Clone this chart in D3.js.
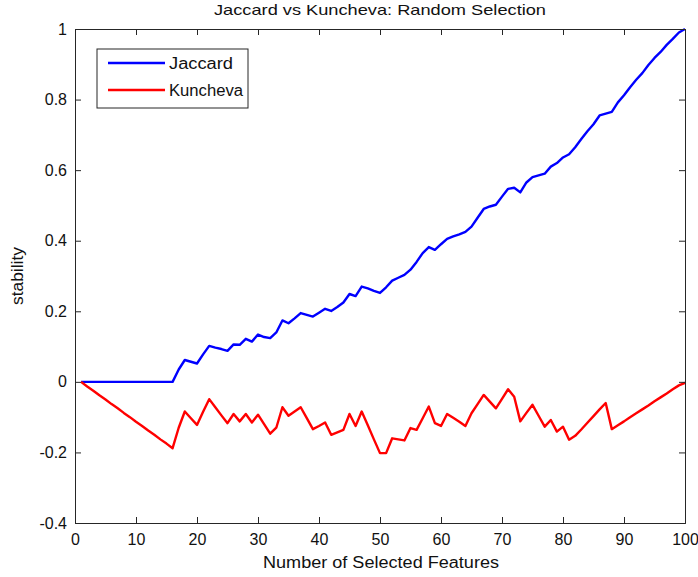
<!DOCTYPE html>
<html>
<head>
<meta charset="utf-8">
<script src="https://cdn.jsdelivr.net/npm/d3@7"></script>
<style>
  body { margin: 0; background: #fff; }
  svg { display: block; }
  text { font-family: "Liberation Sans", Arial, sans-serif; fill: #111; }
</style>
</head>
<body>
<svg id="chart" width="698" height="577"></svg>
<script>
// Number of selected features (1..100)
const features = d3.range(1, 101);

// Jaccard stability index per feature count
const jaccard = [
  0, 0, 0, 0, 0, 0, 0, 0, 0, 0,
  0, 0, 0, 0, 0, 0, 0.035, 0.062, 0.057, 0.052,
  0.078, 0.102, 0.097, 0.093, 0.088, 0.106, 0.105, 0.122, 0.114, 0.134,
  0.127, 0.124, 0.14, 0.174, 0.166, 0.18, 0.195, 0.19, 0.185, 0.196,
  0.207, 0.201, 0.212, 0.225, 0.249, 0.243, 0.27, 0.265, 0.258, 0.252,
  0.268, 0.287, 0.295, 0.303, 0.318, 0.34, 0.365, 0.382, 0.374, 0.39,
  0.405, 0.412, 0.418, 0.425, 0.44, 0.465, 0.49, 0.497, 0.502, 0.525,
  0.547, 0.55, 0.537, 0.565, 0.58, 0.585, 0.59, 0.61, 0.62, 0.636,
  0.645, 0.665, 0.688, 0.71, 0.73, 0.755, 0.76, 0.765, 0.792, 0.812,
  0.835, 0.856, 0.875, 0.898, 0.918, 0.935, 0.955, 0.972, 0.99, 1.0
];

// Kuncheva consistency index per feature count
const kuncheva = [
  0, -0.013, -0.025, -0.038, -0.05, -0.063, -0.075, -0.088, -0.1, -0.113,
  -0.125, -0.138, -0.15, -0.163, -0.175, -0.188, -0.13, -0.084, -0.103, -0.122,
  -0.085, -0.049, -0.072, -0.095, -0.117, -0.091, -0.112, -0.091, -0.115, -0.093,
  -0.12, -0.147, -0.13, -0.072, -0.096, -0.084, -0.072, -0.103, -0.134, -0.125,
  -0.115, -0.15, -0.143, -0.136, -0.091, -0.125, -0.084, -0.123, -0.163, -0.202,
  -0.202, -0.16, -0.163, -0.166, -0.131, -0.136, -0.103, -0.07, -0.117, -0.125,
  -0.091, -0.102, -0.113, -0.125, -0.089, -0.063, -0.037, -0.056, -0.075, -0.048,
  -0.021, -0.042, -0.112, -0.088, -0.065, -0.096, -0.127, -0.108, -0.141, -0.127,
  -0.164, -0.153, -0.135, -0.116, -0.097, -0.078, -0.06, -0.134, -0.123, -0.112,
  -0.1, -0.089, -0.078, -0.067, -0.055, -0.044, -0.033, -0.021, -0.01, -0.003
];

const xTicks = [0, 10, 20, 30, 40, 50, 60, 70, 80, 90, 100];
const yTicks = [-0.4, -0.2, 0, 0.2, 0.4, 0.6, 0.8, 1];
const seriesNames = ["Jaccard", "Kuncheva"];
const seriesColors = ["#0000ff", "#ff0000"];

const svg = d3.select("#chart");
const plotL = 75, plotR = 685, plotT = 29, plotB = 523;

const x = d3.scaleLinear().domain([0, 100]).range([plotL, plotR]);
const y = d3.scaleLinear().domain([-0.4, 1]).range([plotB, plotT]);

const tickFmt = d => String(+d.toFixed(1));

// Series lines (drawn first so the frame sits on top)
const line = d3.line().x((d, i) => x(features[i])).y(d => y(d));
[jaccard, kuncheva].forEach((vals, k) => {
  svg.append("path")
    .datum(vals)
    .attr("d", line)
    .attr("fill", "none")
    .attr("stroke", seriesColors[k])
    .attr("stroke-width", 2.4)
    .attr("stroke-linejoin", "round");
});

// Axes: MATLAB-style inward ticks on all four sides
const axisStyle = g => {
  g.select(".domain").attr("stroke", "#262626").attr("stroke-width", 1);
  g.selectAll(".tick line").attr("stroke", "#262626");
  g.selectAll(".tick text").style("font-size", "16px").attr("fill", "#111")
    .style("font-family", "'Liberation Sans', Arial, sans-serif");
};

svg.append("g")
  .attr("transform", `translate(0,${plotB})`)
  .call(d3.axisBottom(x).tickValues(xTicks).tickSize(-6).tickPadding(11).tickFormat(tickFmt))
  .call(axisStyle);

svg.append("g")
  .attr("transform", `translate(0,${plotT})`)
  .call(d3.axisTop(x).tickValues(xTicks).tickSize(-6).tickFormat(""))
  .call(axisStyle);

svg.append("g")
  .attr("transform", `translate(${plotL},0)`)
  .call(d3.axisLeft(y).tickValues(yTicks).tickSize(-6).tickPadding(8).tickFormat(tickFmt))
  .call(axisStyle);

svg.append("g")
  .attr("transform", `translate(${plotR},0)`)
  .call(d3.axisRight(y).tickValues(yTicks).tickSize(-6).tickFormat(""))
  .call(axisStyle);

// Title and axis labels
svg.append("text")
  .attr("x", (plotL + plotR) / 2).attr("y", 15)
  .attr("text-anchor", "middle")
  .attr("textLength", 332).attr("lengthAdjust", "spacingAndGlyphs")
  .style("font-size", "14.5px")
  .attr("fill", "#222")
  .text("Jaccard vs Kuncheva: Random Selection");

svg.append("text")
  .attr("x", (plotL + plotR) / 2 + 1).attr("y", 568)
  .attr("text-anchor", "middle")
  .attr("textLength", 236).attr("lengthAdjust", "spacingAndGlyphs")
  .style("font-size", "16px")
  .text("Number of Selected Features");

svg.append("text")
  .attr("transform", `translate(23,276) rotate(-90)`)
  .attr("text-anchor", "middle")
  .attr("textLength", 58).attr("lengthAdjust", "spacingAndGlyphs")
  .style("font-size", "16px")
  .text("stability");

// Legend
const legendTextLen = [64, 74];
const lg = svg.append("g");
lg.append("rect")
  .attr("x", 97).attr("y", 49).attr("width", 151).attr("height", 59)
  .attr("fill", "#fff").attr("stroke", "#262626").attr("stroke-width", 1);
seriesNames.forEach((name, i) => {
  const ly = 63 + i * 27;
  lg.append("line")
    .attr("x1", 108).attr("x2", 165).attr("y1", ly).attr("y2", ly)
    .attr("stroke", seriesColors[i]).attr("stroke-width", 2.4);
  lg.append("text")
    .attr("x", 169).attr("y", ly + 6)
    .attr("textLength", legendTextLen[i]).attr("lengthAdjust", "spacingAndGlyphs")
    .style("font-size", "16px")
    .text(name);
});
</script>
</body>
</html>
